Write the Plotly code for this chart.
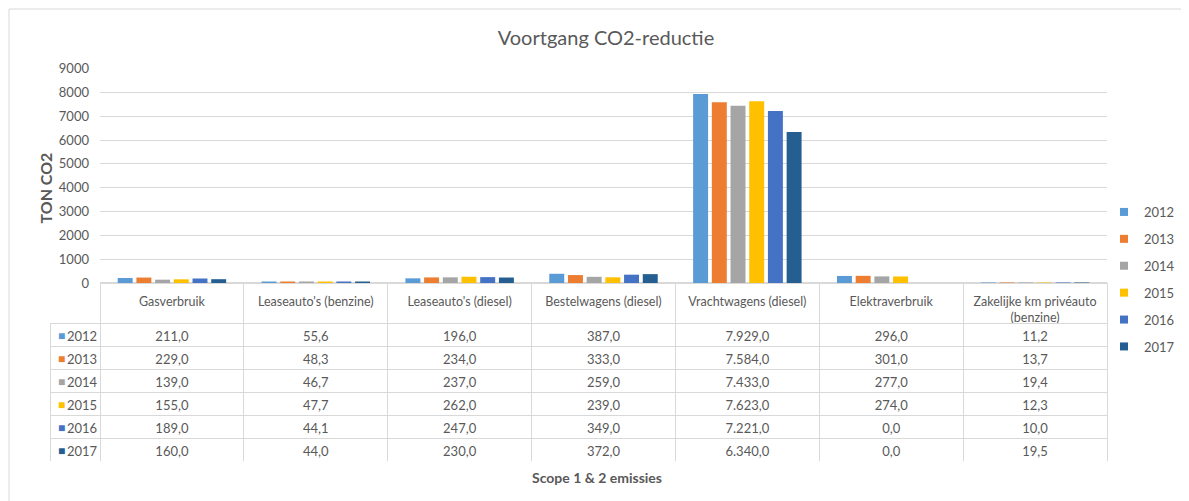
import plotly.graph_objects as go

OFF = 8  # page body margin
W, H = 1189 - OFF, 501 - OFF

categories = ["Gasverbruik", "Leaseauto's (benzine)", "Leaseauto's (diesel)", "Bestelwagens (diesel)",
              "Vrachtwagens (diesel)", "Elektraverbruik", "Zakelijke km privéauto<br>(benzine)"]
years = ["2012", "2013", "2014", "2015", "2016", "2017"]
v2012 = [211.0, 55.6, 196.0, 387.0, 7929.0, 296.0, 11.2]
v2013 = [229.0, 48.3, 234.0, 333.0, 7584.0, 301.0, 13.7]
v2014 = [139.0, 46.7, 237.0, 259.0, 7433.0, 277.0, 19.4]
v2015 = [155.0, 47.7, 262.0, 239.0, 7623.0, 274.0, 12.3]
v2016 = [189.0, 44.1, 247.0, 349.0, 7221.0, 0.0, 10.0]
v2017 = [160.0, 44.0, 230.0, 372.0, 6340.0, 0.0, 19.5]
series = [v2012, v2013, v2014, v2015, v2016, v2017]
colors = ["#5B9BD5", "#ED7D31", "#A5A5A5", "#FFC000", "#4472C4", "#255E91"]
y_ticks = [0, 1000, 2000, 3000, 4000, 5000, 6000, 7000, 8000, 9000]

FONT = "Lato"
TXT = "#595959"
GRID = "#D9D9D9"
CLEAR = "rgba(0,0,0,0)"


def px_x(x):
    return (x - OFF) / W


def px_y(y):
    return 1 - (y - OFF) / H


def nl(v):
    s = f"{v:,.1f}"
    return s.replace(",", "X").replace(".", ",").replace("X", ".")


fig = go.Figure()
for i, (yr, vals, c) in enumerate(zip(years, series, colors)):
    fig.add_trace(go.Bar(x=categories, y=vals, name=yr, marker_color=c,
                         marker_line_width=0, showlegend=False))
for i, (yr, c) in enumerate(zip(years, colors)):
    fig.add_trace(go.Scatter(x=[None], y=[None], mode="markers", name=yr,
                             legendgroup=f"g{i}",
                             marker=dict(symbol="square", size=8, color=c)))

plot_x0, plot_x1 = 100, 1107
leg_x0 = 50
cat_w = (plot_x1 - plot_x0) / len(categories)
tbl_dom = dict(x=[px_x(leg_x0), px_x(plot_x1)], y=[px_y(461), px_y(283)])

# data table (header row left empty: category names come from the x axis)
ncat = len(categories)
cols = [["■"] * len(years)]
for i in range(ncat):
    cols.append([nl(s[i]) for s in series])
font_colors = [colors] + [[TXT] * len(years) for _ in range(ncat)]
font_sizes = [12] + [13] * ncat
fig.add_trace(go.Table(
    domain=tbl_dom,
    columnwidth=[plot_x0 - leg_x0] + [cat_w] * ncat,
    header=dict(values=[""] * (ncat + 1), height=40, fill_color=CLEAR,
                line=dict(color=[CLEAR] + [GRID] * ncat, width=1)),
    cells=dict(values=cols, height=23, fill_color="white",
               line=dict(color=GRID, width=1),
               align=["left"] + ["center"] * ncat,
               font=dict(family=FONT, size=font_sizes, color=font_colors)),
))
# year labels next to the legend keys in the first column
fig.add_trace(go.Table(
    domain=dict(x=[px_x(59), px_x(plot_x0)], y=tbl_dom["y"]),
    columnwidth=[1],
    header=dict(values=[""], height=40, fill_color=CLEAR, line=dict(color=CLEAR, width=0)),
    cells=dict(values=[years], height=23, fill_color=CLEAR,
               line=dict(color=CLEAR, width=0), align="left",
               font=dict(family=FONT, size=13, color=TXT)),
))

fig.update_layout(
    width=W, height=H,
    margin=dict(l=0, r=0, t=0, b=0, autoexpand=False),
    paper_bgcolor="white", plot_bgcolor="white",
    font=dict(family=FONT, color=TXT),
    barmode="group", bargap=0.22, bargroupgap=0.2,
    xaxis=dict(domain=[px_x(plot_x0), px_x(plot_x1)], showticklabels=True,
               ticks="", ticklabelstandoff=9, automargin=False,
               tickfont=dict(family=FONT, size=12.5, color=TXT),
               showgrid=False, zeroline=False, showline=False, fixedrange=True),
    yaxis=dict(domain=[px_y(283), px_y(68.5)], range=[0, 9000], tickvals=y_ticks,
               showgrid=True, gridcolor=GRID, gridwidth=1, zeroline=True,
               zerolinecolor=GRID, ticks="", ticklabelstandoff=10, automargin=False,
               tickfont=dict(family=FONT, size=13, color=TXT), fixedrange=True),
    showlegend=True,
    legend=dict(x=px_x(1104), y=px_y(197), xanchor="left", yanchor="top",
                font=dict(family=FONT, size=13, color=TXT), tracegroupgap=7,
                itemwidth=30, bgcolor=CLEAR),
    title=dict(text="Voortgang CO2-reductie", x=px_x(606), xanchor="center",
               y=px_y(38), yanchor="middle",
               font=dict(family=FONT, size=20, color=TXT)),
    annotations=[
        dict(text="<b>TON CO2</b>", x=px_x(33), y=px_y(188), xref="paper", yref="paper",
             textangle=-90, showarrow=False, font=dict(family=FONT, size=16, color=TXT)),
        dict(text="<b>Scope 1 &amp; 2 emissies</b>", x=px_x(597), y=px_y(488), xref="paper",
             yref="paper", showarrow=False, font=dict(family=FONT, size=14, color=TXT)),
    ],
    shapes=[dict(type="rect", xref="paper", yref="paper", x0=px_x(9), x1=px_x(1220),
                 y0=px_y(530), y1=px_y(9), line=dict(color=GRID, width=1))],
)

fig.write_html("out.html")
